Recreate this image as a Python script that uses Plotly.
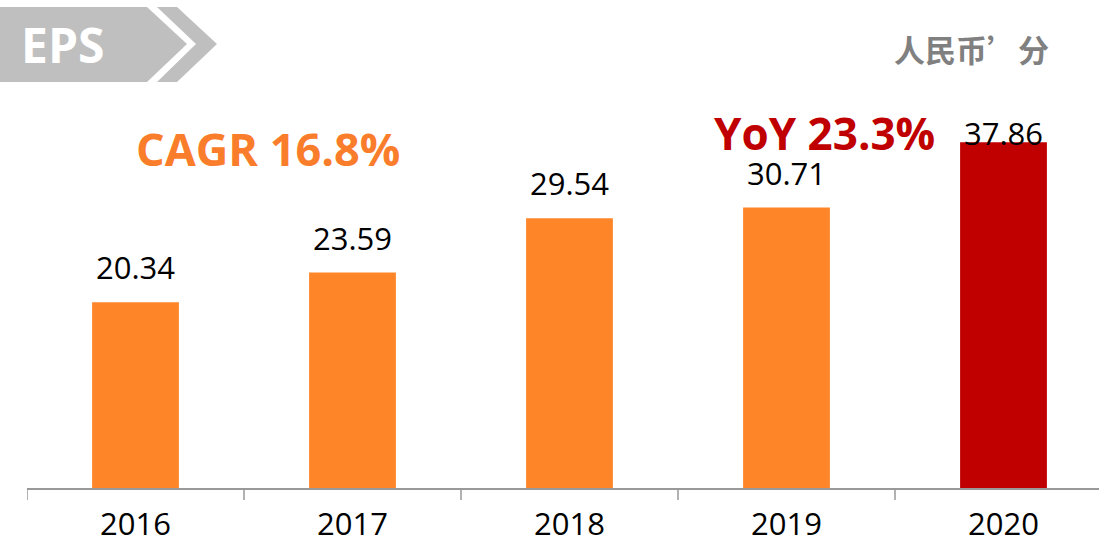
import plotly.graph_objects as go

years = ["2016", "2017", "2018", "2019", "2020"]
eps = [20.34, 23.59, 29.54, 30.71, 37.86]
label_shift = [35, 35, 35, 35, 9]
bar_colors = ["#FF8628", "#FF8628", "#FF8628", "#FF8628", "#C00000"]

W, H = 1099, 540
ML, MB, MT = 27, 52, 0
PW, PH = W - ML, H - MB - MT
PX_PER_UNIT = 9.13
YMAX = PH / PX_PER_UNIT

def px(x):
    return (x - ML) / PW

def py(y):
    return (H - MB - y) / PH

fig = go.Figure()
fig.add_trace(go.Bar(x=list(range(len(years))), y=eps, marker=dict(color=bar_colors, line=dict(width=0)),
                     width=0.4, hoverinfo="skip"))

for i, (v, s) in enumerate(zip(eps, label_shift)):
    fig.add_annotation(x=i, y=v / YMAX, xref="x", yref="paper", text=f"{v:.2f}", showarrow=False,
                       yanchor="middle", yshift=s,
                       font=dict(family="Open Sans", size=31, color="#000000"))

# banner shapes
pent = [(0, 7), (147, 7), (187, 44), (147, 82), (0, 82)]
chev = [(157, 7), (177, 7), (217, 44), (177, 82), (157, 82), (196, 44)]
def path(pts):
    return "M " + " L ".join(f"{px(a):.5f},{py(b):.5f}" for a, b in pts) + " Z"
for p in (pent, chev):
    fig.add_shape(type="path", path=path(p), xref="paper", yref="paper",
                  fillcolor="#BFBFBF", line=dict(width=0), layer="above")

fig.add_annotation(x=px(62), y=py(45), xref="paper", yref="paper", text="<b>EPS</b>",
                   showarrow=False, xanchor="center", yanchor="middle",
                   font=dict(family="Open Sans", size=48, color="#FFFFFF"))
fig.add_annotation(x=px(1051), y=py(49), xref="paper", yref="paper", text="<b>人民币’分</b>",
                   showarrow=False, xanchor="right", yanchor="middle",
                   font=dict(family="Noto Sans CJK SC", size=31, color="#808080"))
fig.add_annotation(x=px(268), y=py(148), xref="paper", yref="paper", text="<b>CAGR 16.8%</b>",
                   showarrow=False, xanchor="center", yanchor="middle",
                   font=dict(family="Open Sans", size=45, color="#FA7D2B"))
fig.add_annotation(x=px(824), y=py(133), xref="paper", yref="paper", text="<b>YoY 23.3%</b>",
                   showarrow=False, xanchor="center", yanchor="middle",
                   font=dict(family="Open Sans", size=44, color="#C00000"))

fig.update_layout(
    width=W, height=H, margin=dict(l=ML, r=0, t=MT, b=MB, pad=0, autoexpand=False),
    paper_bgcolor="white", plot_bgcolor="white", showlegend=False,
    xaxis=dict(range=[-0.5, -0.5 + PW / 217.0], showgrid=False, zeroline=False, automargin=False,
               showline=True, linecolor="#999999", linewidth=2,
               tickmode="array", tickvals=list(range(len(years))), ticktext=years,
               ticks="", ticklabelstandoff=8,
               tickfont=dict(family="Open Sans", size=31, color="#000000")),
    yaxis=dict(range=[0, YMAX], showticklabels=False, showgrid=False, zeroline=False, showline=False,
               automargin=False),
)

# boundary tick marks drawn as short lines at category edges
for i in range(len(years)):
    fig.add_shape(type="line", xref="x", yref="paper", x0=i - 0.5, x1=i - 0.5,
                  y0=0, y1=-12 / PH, line=dict(color="#999999", width=1.5))

fig.write_html("out.html", config={"displayModeBar": False},
               post_script="document.body.style.margin='0';document.body.style.overflow='hidden';")
